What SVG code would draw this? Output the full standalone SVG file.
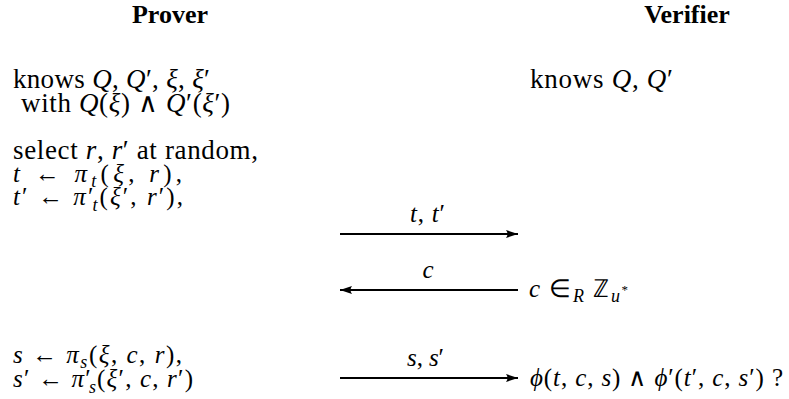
<svg xmlns="http://www.w3.org/2000/svg" width="789" height="399" viewBox="0 0 789 399">
<style>
text{font-family:"Liberation Serif","Times New Roman",serif;font-size:27px;fill:#000}
.b{font-weight:bold;font-size:26px}
.m{font-size:25px}
.i{font-style:italic}
.s{font-size:18px;font-style:italic}
.conn line{stroke:#000;stroke-width:2}
</style>
<defs>
<marker id="ah" markerUnits="userSpaceOnUse" markerWidth="14" markerHeight="10" viewBox="-12 -5 14 10" refX="0" refY="0" orient="auto">
<path d="M-12,-4 L0,0 L-12,4 Q-9,0 -12,-4 Z" fill="#000"/>
</marker>
</defs>
<rect width="789" height="399" fill="#fff"/>
<g id="prover-title"><text class="b" x="170" y="23" text-anchor="middle">Prover</text></g>
<g id="verifier-title"><text class="b" x="687" y="23" text-anchor="middle">Verifier</text></g>
<g id="prover-knows">
<text x="13" y="88" textLength="197" lengthAdjust="spacing">knows <tspan class="i">Q</tspan>, <tspan class="i">Q</tspan>′, <tspan class="i">ξ</tspan>, <tspan class="i">ξ</tspan>′</text>
<text x="21" y="112" textLength="209" lengthAdjust="spacing">with <tspan class="i">Q</tspan>(<tspan class="i">ξ</tspan>) ∧ <tspan class="i">Q</tspan>′(<tspan class="i">ξ</tspan>′)</text>
</g>
<g id="verifier-knows"><text x="530" y="88" textLength="143" lengthAdjust="spacing">knows <tspan class="i">Q</tspan>, <tspan class="i">Q</tspan>′</text></g>
<g id="prover-commit">
<text x="13" y="159" textLength="245" lengthAdjust="spacing">select <tspan class="i">r</tspan>, <tspan class="i">r</tspan>′ at random,</text>
<text class="m" x="13" y="182" textLength="169" lengthAdjust="spacing"><tspan class="i">t</tspan> ← <tspan class="i">π</tspan><tspan class="s" dy="5">t</tspan><tspan dy="-5">(</tspan><tspan class="i">ξ</tspan>, <tspan class="i">r</tspan>),</text>
<text class="m" x="13" y="205" textLength="170" lengthAdjust="spacing"><tspan class="i">t</tspan>′ ← <tspan class="i">π</tspan>′<tspan class="s" dx="-3" dy="6">t</tspan><tspan dy="-6">(</tspan><tspan class="i">ξ</tspan>′, <tspan class="i">r</tspan>′),</text>
</g>
<g id="verifier-challenge"><text class="m" x="529" y="297" textLength="99" lengthAdjust="spacing"><tspan class="i">c</tspan> ∈<tspan class="s" dy="5">R</tspan><tspan dy="-5"> ℤ</tspan><tspan class="s" dy="5">u</tspan><tspan font-size="13" dy="-8">*</tspan></text></g>
<g id="prover-response">
<text class="m" x="13" y="363" textLength="169" lengthAdjust="spacing"><tspan class="i">s</tspan> ← <tspan class="i">π</tspan><tspan class="s" dy="5">s</tspan><tspan dy="-5">(</tspan><tspan class="i">ξ</tspan>, <tspan class="i">c</tspan>, <tspan class="i">r</tspan>),</text>
<text class="m" x="13" y="387" textLength="180" lengthAdjust="spacing"><tspan class="i">s</tspan>′ ← <tspan class="i">π</tspan>′<tspan class="s" dx="-3" dy="6">s</tspan><tspan dy="-6">(</tspan><tspan class="i">ξ</tspan>′, <tspan class="i">c</tspan>, <tspan class="i">r</tspan>′)</text>
</g>
<g id="verifier-check"><text class="m" x="530" y="386" textLength="253" lengthAdjust="spacing"><tspan class="i">ϕ</tspan>(<tspan class="i">t</tspan>, <tspan class="i">c</tspan>, <tspan class="i">s</tspan>) ∧ <tspan class="i">ϕ</tspan>′(<tspan class="i">t</tspan>′, <tspan class="i">c</tspan>, <tspan class="i">s</tspan>′) ?</text></g>
<g id="connectors" class="conn">
<line x1="340" y1="234" x2="518" y2="234" marker-end="url(#ah)"/>
<text class="m" x="410" y="222" textLength="35" lengthAdjust="spacing"><tspan class="i">t</tspan>, <tspan class="i">t</tspan>′</text>
<line x1="518" y1="290" x2="340" y2="290" marker-end="url(#ah)"/>
<text x="428" y="278" text-anchor="middle" class="m i">c</text>
<line x1="340" y1="378" x2="518" y2="378" marker-end="url(#ah)"/>
<text class="m" x="407" y="366" textLength="37" lengthAdjust="spacing"><tspan class="i">s</tspan>, <tspan class="i">s</tspan>′</text>
</g>
</svg>
